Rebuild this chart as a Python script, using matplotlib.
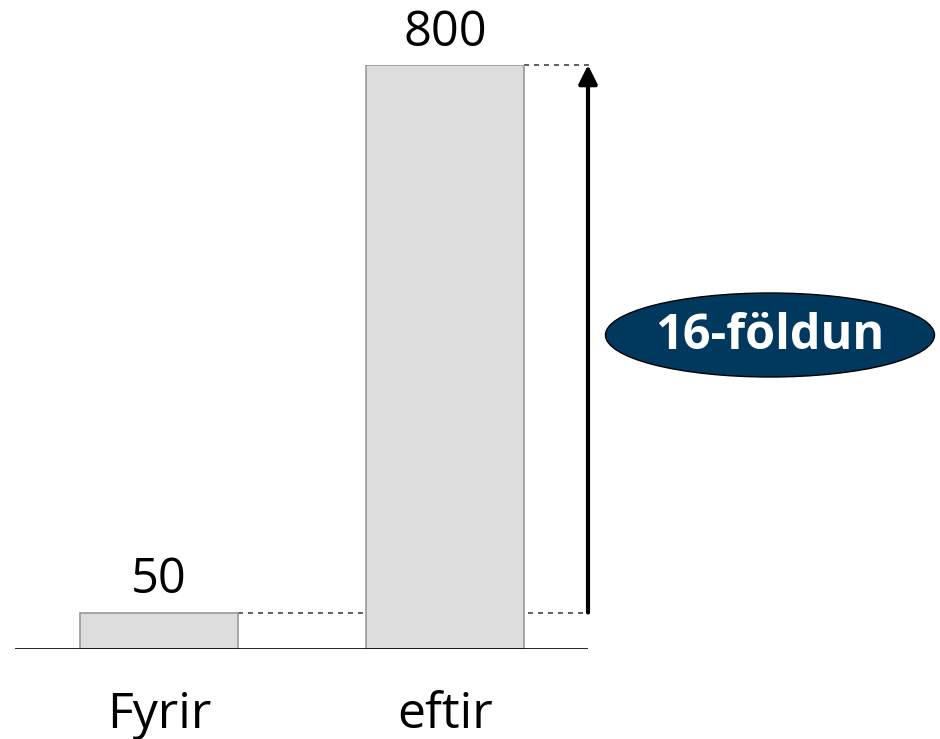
import matplotlib.pyplot as plt
from matplotlib.patches import Ellipse

categories = ["Fyrir", "eftir"]
values = [50, 800]
fold_label = "16-földun"

plt.rcParams['font.family'] = ['Open Sans', 'DejaVu Sans']

fig = plt.figure(figsize=(9.4, 7.39), dpi=100)
W, H = 940, 739
# axes: x from 15px to 588px, baseline at 649px, value 800 at 65px
ax = fig.add_axes([15 / W, (H - 649) / H, (588 - 15) / W, (649 - 65) / H])

x = range(len(categories))
bars = ax.bar(x, values, width=0.552, color='#dddddd', edgecolor='#999999', linewidth=1.2, zorder=2)
ax.set_xlim(-0.503, 1.5)
ax.set_ylim(0, 800)

for xi, v in zip(x, values):
    ax.text(xi, v + 10, str(v), ha='center', va='bottom', fontsize=35)

for xi, c in zip(x, categories):
    ax.text(xi, -0.113, c, transform=ax.get_xaxis_transform(), ha='center', va='center', fontsize=36)

# dashed reference lines from the bar tops to the arrow
right_edge = 1 + 0.552 / 2
ax.plot([0 + 0.552 / 2, 1.507], [values[0], values[0]], ls=(0, (3, 3)), color='#444444', lw=1.2, clip_on=False, zorder=1)
ax.plot([right_edge, 1.507], [values[1], values[1]], ls=(0, (3, 3)), color='#444444', lw=1.2, clip_on=False, zorder=1)

ax.annotate('', xy=(1.5, values[1]), xytext=(1.5, values[0]),
            arrowprops=dict(arrowstyle='-|>', lw=3, color='black', mutation_scale=28,
                            shrinkA=0, shrinkB=0), annotation_clip=False)

# baseline
ax.axhline(0, color='black', lw=1.2, zorder=3)

for s in ax.spines.values():
    s.set_visible(False)
ax.set_xticks([])
ax.set_yticks([])

ell = Ellipse((770 / W, 1 - 335 / H), 329 / W, 84 / H, transform=fig.transFigure,
              facecolor='#01395e', edgecolor='black', lw=1)
fig.add_artist(ell)
fig.text(770 / W, 1 - 337 / H, fold_label, ha='center', va='center', fontsize=35,
         fontweight='bold', color='white')

fig.savefig('out.png', dpi=100)
